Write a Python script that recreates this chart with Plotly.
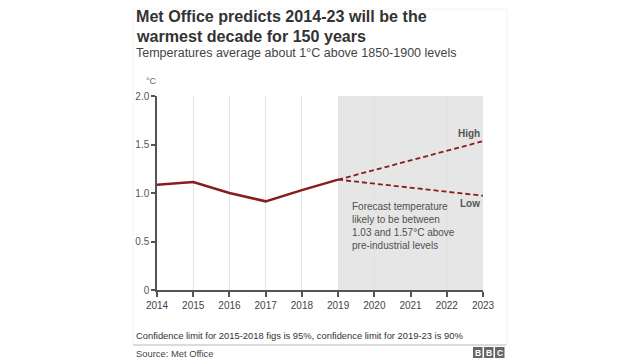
import plotly.graph_objects as go

years = [2014, 2015, 2016, 2017, 2018, 2019]
temps = [1.086, 1.114, 1.0, 0.914, 1.03, 1.138]
forecast_years = [2019, 2023]
high = [1.138, 1.534]
low = [1.138, 0.972]
x_ticks = list(range(2014, 2024))
y_ticks = [0, 0.5, 1.0, 1.5, 2.0]
y_labels = ["0", "0.5", "1.0", "1.5", "2.0"]

RED = "#8a1c1f"
FONT = "Liberation Sans, Arial, sans-serif"

# page body has an 8px margin: compensate
OFF = 8
W, H = 640 - OFF, 360 - OFF
def px(x):
    return (x - OFF) / W
def py(y):
    return 1 - (y - OFF) / H

fig = go.Figure()
fig.add_trace(go.Scatter(x=years, y=temps, mode="lines",
                         line=dict(color=RED, width=2.5), hoverinfo="skip"))
fig.add_trace(go.Scatter(x=forecast_years, y=high, mode="lines",
                         line=dict(color=RED, width=1.8, dash="5px,3px"), hoverinfo="skip"))
fig.add_trace(go.Scatter(x=forecast_years, y=low, mode="lines",
                         line=dict(color=RED, width=1.8, dash="5px,3px"), hoverinfo="skip"))

# forecast shaded area
fig.add_shape(type="rect", xref="x", yref="y", x0=forecast_years[0], x1=forecast_years[-1],
              y0=y_ticks[0], y1=y_ticks[-1],
              fillcolor="#e6e6e6", line_width=0, layer="below")
# faint gridlines visible inside the shaded area
for xv in x_ticks:
    if forecast_years[0] < xv < forecast_years[-1]:
        fig.add_shape(type="line", xref="x", yref="y", x0=xv, x1=xv,
                      y0=y_ticks[0], y1=y_ticks[-1],
                      line=dict(color="#dadada", width=1), layer="below")

# faint card border and separator
fig.add_shape(type="rect", xref="paper", yref="paper", x0=px(133), x1=px(507),
              y0=py(345), y1=py(9), line=dict(color="#f2f2f2", width=1), layer="below")
fig.add_shape(type="line", xref="paper", yref="paper", x0=px(133), x1=px(506),
              y0=py(345), y1=py(345), line=dict(color="#bdbdbd", width=1.2))

ann = []
def t(text, x, y, size, color="#404040", bold=False, xanchor="left", yanchor="middle", **kw):
    if bold:
        text = "<b>" + text + "</b>"
    ann.append(dict(text=text, x=px(x), y=py(y), xref="paper", yref="paper",
                    xanchor=xanchor, yanchor=yanchor, showarrow=False,
                    font=dict(family=FONT, size=size, color=color), align="left", **kw))

t("Met Office predicts 2014-23 will be the", 134, 16, 16.1, "#333333", bold=True)
t("warmest decade for 150 years", 134, 36, 16.1, "#333333", bold=True)
t("Temperatures average about 1°C above 1850-1900 levels", 134, 53, 12.5, "#444444")
t("°C", 144, 81, 9, "#666666")
t("High", 482, 134, 10, "#555555", bold=True, xanchor="right")
t("Low", 482, 203, 10, "#555555", bold=True, xanchor="right")
t("Forecast temperature<br>likely to be between<br>1.03 and 1.57°C above<br>pre-industrial levels",
  350, 226, 10, "#505050", yanchor="middle")
t("Confidence limit for 2015-2018 figs is 95%, confidence limit for 2019-23 is 90%",
  134, 335, 9.4, "#333333")
t("Source: Met Office", 134, 353, 9.4, "#444444")

fig.update_layout(annotations=ann)

# BBC logo boxes
for i, letter in enumerate("BBC"):
    x0 = 473 + i * 11
    fig.add_shape(type="rect", xref="paper", yref="paper", x0=px(x0), x1=px(x0 + 9.5),
                  y0=py(358), y1=py(347), fillcolor="#666666", line_width=0)
    fig.add_annotation(text="<b>" + letter + "</b>", x=px(x0 + 4.75), y=py(352.5),
                       xref="paper", yref="paper", showarrow=False,
                       font=dict(family=FONT, size=8.5, color="white"),
                       xanchor="center", yanchor="middle")

fig.update_layout(
    width=W, height=H,
    margin=dict(l=0, r=0, t=0, b=0, autoexpand=False),
    paper_bgcolor="white", plot_bgcolor="white",
    showlegend=False,
    xaxis=dict(domain=[px(157), px(483)], range=[2014, 2023], tickvals=x_ticks,
               ticktext=[str(v) for v in x_ticks],
               showgrid=True, gridcolor="#e3e3e3", gridwidth=1,
               showline=True, linecolor="#555555", linewidth=1.5,
               ticks="outside", ticklen=5, tickcolor="#555555", tickwidth=1.5,
               tickfont=dict(family=FONT, size=10, color="#444444"),
               zeroline=False, fixedrange=True, automargin=False),
    yaxis=dict(domain=[py(290), py(96)], range=[0, 2.0], tickvals=y_ticks,
               ticktext=y_labels, showgrid=False,
               showline=True, linecolor="#555555", linewidth=1.5,
               ticks="outside", ticklen=4, tickcolor="#555555", tickwidth=1.5,
               tickfont=dict(family=FONT, size=10, color="#555555"),
               zeroline=False, fixedrange=True, automargin=False),
)

fig.write_html("out.html")
